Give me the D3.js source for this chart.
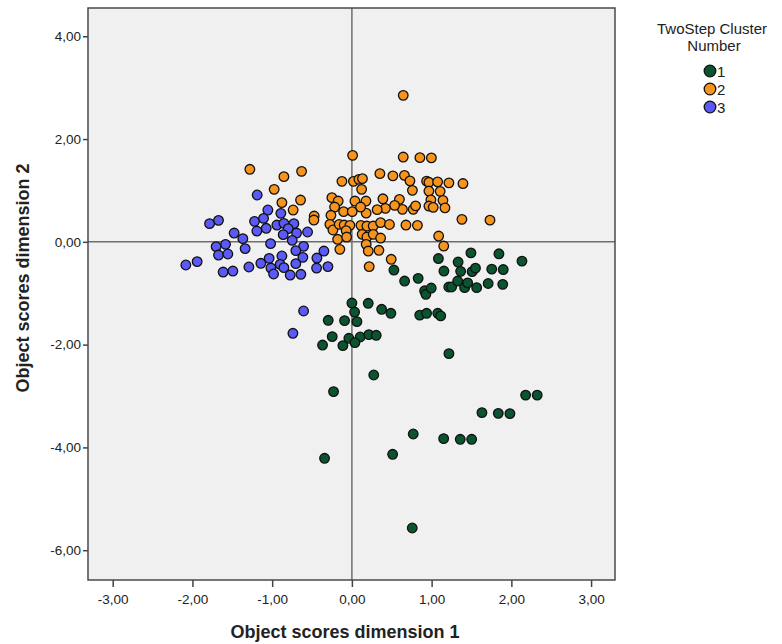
<!DOCTYPE html>
<html>
<head>
<meta charset="utf-8">
<script src="https://cdn.jsdelivr.net/npm/d3@7"></script>
<style>
  body { margin: 0; background: #fff; }
  text { font-family: "Liberation Sans", Arial, sans-serif; }
</style>
</head>
<body>
<div id="chart"></div>
<script>
// cluster 1 (green), cluster 2 (orange), cluster 3 (blue): [dim1, dim2]
var cluster1 = [
  [1.085,-0.325],[1.154,-0.568],[1.493,-0.214],[1.332,-0.393],[1.364,-0.574],[1.508,-0.580],
  [1.550,-0.512],[1.844,-0.233],[1.754,-0.531],[1.898,-0.539],[2.133,-0.375],[0.527,-0.549],
  [0.661,-0.763],[0.831,-0.710],[0.912,-0.953],[0.928,-1.021],[0.995,-0.899],[1.215,-0.879],
  [1.251,-0.879],[1.327,-0.763],[1.414,-0.891],[1.452,-0.798],[1.565,-0.891],[1.709,-0.811],
  [1.892,-0.827],[0.000,-1.191],[0.205,-1.196],[0.034,-1.366],[0.373,-1.313],[0.489,-1.391],
  [-0.297,-1.527],[-0.092,-1.533],[0.063,-1.553],[-0.247,-1.844],[-0.038,-1.877],[0.104,-1.852],
  [0.213,-1.805],[0.305,-1.819],[0.038,-1.961],[-0.368,-2.008],[-0.113,-2.019],[0.851,-1.426],
  [0.937,-1.391],[1.077,-1.391],[1.114,-1.440],[1.217,-2.175],[0.274,-2.591],[-0.230,-2.914],
  [2.179,-2.982],[2.324,-2.982],[1.631,-3.323],[1.836,-3.337],[1.982,-3.342],[0.769,-3.739],
  [1.151,-3.829],[1.359,-3.842],[1.502,-3.842],[0.511,-4.134],[-0.343,-4.212],[0.757,-5.568]
];
var cluster2 = [
  [0.644,2.850],[0.009,1.683],[0.644,1.650],[0.853,1.638],[0.997,1.634],[-1.280,1.411],
  [-0.853,1.268],[-0.631,1.372],[-0.975,1.021],[-0.878,0.763],[-0.644,0.813],[-0.737,0.619],
  [-0.473,0.502],[-0.477,0.424],[-0.125,1.177],[0.019,1.177],[0.088,1.216],[0.132,1.230],
  [0.122,1.021],[0.351,1.327],[0.514,1.284],[0.659,1.294],[0.728,1.187],[0.759,1.002],
  [0.937,1.181],[0.966,1.158],[1.075,1.167],[1.217,1.148],[1.393,1.134],[0.966,0.988],
  [1.107,0.982],[0.991,0.817],[1.142,0.807],[0.596,0.827],[0.634,0.632],[0.769,0.632],
  [0.799,0.700],[0.966,0.696],[1.020,0.671],[1.167,0.661],[0.536,0.710],[0.420,0.652],
  [0.389,0.837],[0.317,0.626],[0.176,0.794],[0.179,0.558],[-0.251,0.860],[-0.172,0.794],
  [-0.217,0.677],[-0.104,0.588],[0.004,0.588],[0.038,0.794],[0.109,0.677],[-0.263,0.516],
  [-0.276,0.340],[-0.238,0.230],[-0.159,0.340],[-0.097,0.327],[-0.025,0.321],[-0.072,0.218],
  [-0.179,0.049],[-0.066,0.093],[-0.151,-0.146],[0.113,0.321],[0.188,0.307],[0.267,0.307],
  [0.360,0.374],[0.471,0.337],[0.678,0.327],[0.822,0.321],[0.129,0.146],[0.188,0.093],
  [0.267,0.146],[0.360,0.074],[0.179,-0.049],[0.205,-0.179],[0.339,-0.165],[0.493,-0.340],
  [0.217,-0.482],[1.380,0.438],[1.732,0.422],[1.088,0.113],[1.152,-0.082]
];
var cluster3 = [
  [-1.188,0.911],[-1.785,0.354],[-1.673,0.418],[-1.054,0.619],[-1.221,0.399],[-1.108,0.457],
  [-1.192,0.210],[-1.075,0.263],[-0.891,0.554],[-0.941,0.327],[-0.853,0.360],[-0.728,0.354],
  [-0.799,0.257],[-0.862,0.140],[-0.694,0.171],[-0.556,0.191],[-0.749,0.029],[-1.477,0.171],
  [-1.368,0.062],[-1.339,-0.132],[-1.703,-0.093],[-1.585,-0.049],[-1.673,-0.257],[-1.556,-0.237],
  [-1.020,-0.035],[-0.606,-0.088],[-0.703,-0.171],[-0.351,-0.179],[-2.083,-0.451],[-1.941,-0.385],
  [-1.615,-0.588],[-1.493,-0.568],[-1.292,-0.490],[-1.142,-0.418],[-1.038,-0.321],[-0.878,-0.276],
  [-0.900,-0.438],[-1.016,-0.510],[-0.982,-0.626],[-0.853,-0.502],[-0.774,-0.646],[-0.703,-0.424],
  [-0.615,-0.302],[-0.640,-0.632],[-0.439,-0.315],[-0.443,-0.510],[-0.301,-0.482],[-0.606,-1.346],
  [-0.740,-1.780]
];
var clusterNames = ["1", "2", "3"];
var clusterColors = ["#0a5530", "#f7941e", "#5a5af7"];
var xTicks = [-3, -2, -1, 0, 1, 2, 3];
var yTicks = [-6, -4, -2, 0, 2, 4];

var svg = d3.select('#chart').append('svg')
            .attr('width', 782)
            .attr('height', 644);

var plot = { left: 88, top: 8, right: 615, bottom: 580 };

var x = d3.scaleLinear().domain([-3.31, 3.30]).range([plot.left, plot.right]);
var y = d3.scaleLinear().domain([-6.58, 4.55]).range([plot.bottom, plot.top]);

var fmt = function(v){ return d3.format('.2f')(v).replace('.', ',').replace('\u2212', '-'); };

// plot background
svg.append('rect')
   .attr('x', plot.left).attr('y', plot.top)
   .attr('width', plot.right - plot.left).attr('height', plot.bottom - plot.top)
   .style('fill', '#f0f0f0');

// reference lines at 0
svg.append('line')
   .attr('x1', plot.left).attr('x2', plot.right)
   .attr('y1', y(0)).attr('y2', y(0))
   .style('stroke', '#6e6e6e').style('stroke-width', 1.5);
svg.append('line')
   .attr('x1', x(0)).attr('x2', x(0))
   .attr('y1', plot.top).attr('y2', plot.bottom)
   .style('stroke', '#6e6e6e').style('stroke-width', 1.5);

// axes
var xAxis = svg.append('g')
   .attr('transform', 'translate(0,' + plot.bottom + ')')
   .call(d3.axisBottom(x).tickValues(xTicks).tickFormat(fmt).tickSize(7).tickSizeOuter(0));
var yAxis = svg.append('g')
   .attr('transform', 'translate(' + plot.left + ',0)')
   .call(d3.axisLeft(y).tickValues(yTicks).tickFormat(fmt).tickSize(5).tickSizeOuter(0));

[xAxis, yAxis].forEach(function(a){
  a.select('.domain').remove();
  a.selectAll('line').style('stroke', '#444').style('stroke-width', 1.5);
  a.selectAll('text').style('font-size', '13.5px').style('fill', '#222')
   .style('font-family', '"Liberation Sans", Arial, sans-serif');
});
xAxis.selectAll('text').attr('y', 11).attr('dy', '0.95em');
yAxis.selectAll('text').attr('x', -7);

// frame
svg.append('rect')
   .attr('x', plot.left).attr('y', plot.top)
   .attr('width', plot.right - plot.left).attr('height', plot.bottom - plot.top)
   .style('fill', 'none').style('stroke', '#4a4a4a').style('stroke-width', 1.5);

// points
[cluster1, cluster2, cluster3].forEach(function(pts, i){
  svg.append('g').selectAll('circle')
     .data(pts)
     .enter().append('circle')
     .attr('cx', function(d){ return x(d[0]); })
     .attr('cy', function(d){ return y(d[1]); })
     .attr('r', 4.8)
     .style('fill', clusterColors[i])
     .style('stroke', '#111')
     .style('stroke-width', 1.3);
});

// axis titles
svg.append('text')
   .attr('x', 345).attr('y', 638)
   .attr('text-anchor', 'middle')
   .style('font-size', '18px').style('font-weight', 'bold').style('fill', '#222')
   .text('Object scores dimension 1');
svg.append('text')
   .attr('transform', 'translate(29,278) rotate(-90)')
   .attr('text-anchor', 'middle')
   .style('font-size', '18px').style('font-weight', 'bold').style('fill', '#222')
   .text('Object scores dimension 2');

// legend
var legend = svg.append('g');
legend.append('text').attr('x', 712).attr('y', 34).attr('text-anchor', 'middle')
      .style('font-size', '15px').style('fill', '#222').text('TwoStep Cluster');
legend.append('text').attr('x', 714).attr('y', 51).attr('text-anchor', 'middle')
      .style('font-size', '15px').style('fill', '#222').text('Number');
var items = legend.selectAll('.item')
      .data(clusterNames)
      .enter().append('g').attr('class', 'item')
      .attr('transform', function(d, i){ return 'translate(710,' + (71 + i * 18) + ')'; });
items.append('circle').attr('r', 5.8)
     .style('fill', function(d, i){ return clusterColors[i]; })
     .style('stroke', '#111').style('stroke-width', 1.3);
items.append('text').attr('x', 7).attr('y', 5.5)
     .style('font-size', '15px').style('fill', '#222')
     .text(function(d){ return d; });
</script>
</body>
</html>
